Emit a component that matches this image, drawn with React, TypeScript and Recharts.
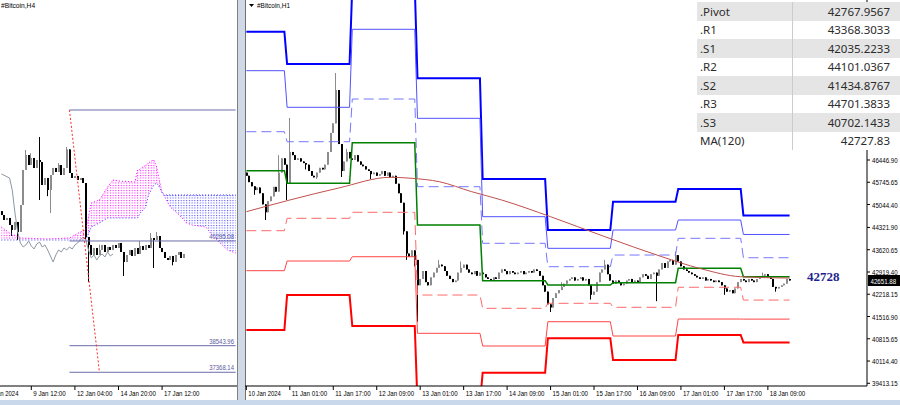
import React from 'react';
import { ComposedChart, Bar, Line, Area, XAxis, YAxis, ReferenceLine } from 'recharts';

const FONT = "'Liberation Sans', Arial, sans-serif";

// ---------- right panel: #Bitcoin,H1 (bar 0 = 10 Jan 09:00) ----------
const h1FirstOpen = 46050;
const h1Close = [
  45950, 45750, 45620, 45500, 45580, 45400, 45050, 44800, 45150, 45300,
  45600, 45450, 46050, 46500, 46300, 45700, 46700, 46600, 46450, 46500,
  46400, 46350, 46300, 46100, 45950, 45900, 46050, 46200, 46150, 46300,
  46700, 47300, 47600, 48650, 46950, 46100, 46400, 46700, 46500, 46450,
  46600, 46400, 46300, 46250, 46150, 46100, 46000, 46050, 45950, 46000,
  46100, 45950, 46050, 45900, 45950, 45700, 45400, 45100, 44200, 43500,
  43400, 43600, 43300, 42500, 42700, 42950, 42600, 42500, 42750, 42900,
  43050, 43150, 43100, 42950, 42800, 42700, 42600, 42650, 42900, 43050,
  43150, 43000, 42900, 42850, 42950, 42800, 42900, 42850, 42750, 42700,
  42650, 42750, 42700, 42900, 43000, 42950, 42850, 42950, 42900, 42850,
  42900, 42950, 42850, 42900, 42950, 42900, 43000, 42950, 42800, 42500,
  42300, 41900, 41800, 42100, 42250, 42350, 42450, 42550, 42650, 42700,
  42750, 42650, 42700, 42750, 42650, 42700, 42500, 42200, 42300, 42600,
  42900, 43000, 43150, 42850, 42650, 42550, 42650, 42600, 42500, 42550,
  42650, 42700, 42600, 42650, 42600, 42750, 42850, 42800, 42700, 42850,
  42900, 42800, 43000, 43200, 43050, 43250, 43300, 43150, 43450, 43250,
  43100, 43000, 42950, 42900, 42850, 42800, 42750, 42700, 42750, 42650,
  42700, 42650, 42600, 42650, 42600, 42500, 42400, 42300, 42350, 42250,
  42400, 42600, 42700, 42650, 42600, 42700, 42650, 42600, 42700, 42750,
  42800, 42850, 42750, 42700, 42450, 42400, 42450, 42500, 42550, 42700, 42652,
];
// long wicks only: [bar, high, low]
const h1Wicks: [number, number | null, number | null][] = [
  [3, null, 45350], [7, null, 44557], [12, 46600, null], [15, null, 45187], [16, 47770, null],
  [22, null, 46150], [26, null, 45850], [33, 49187, null], [35, null, 45911], [37, 46800, null],
  [46, null, 45850], [58, null, 44100], [59, null, 43300], [62, null, 43100], [63, null, 41350],
  [71, 43300, null], [79, 43250, null], [112, null, 41659], [116, 42600, null], [127, null, 42050],
  [132, 43300, null], [151, null, 42000], [158, 43560, null], [176, null, 42200], [190, 42900, null],
  [195, null, 42300],
];
const h1Ticks = [0, 16, 32, 48, 64, 80, 96, 112, 128, 144, 160, 176, 192];
const h1TickLabels = ['10 Jan 2024', '11 Jan 01:00', '11 Jan 17:00', '12 Jan 09:00', '13 Jan 01:00',
  '13 Jan 17:00', '14 Jan 09:00', '15 Jan 01:00', '15 Jan 17:00', '16 Jan 09:00', '17 Jan 01:00',
  '17 Jan 17:00', '18 Jan 09:00'];
const priceTicks = [39413.15, 40114.4, 40815.65, 41516.9, 42218.15, 42919.4, 43620.65, 44321.9,
  45044.4, 45745.65, 46446.9];

// daily pivot levels
const dayStart = [0, 15, 39, 63, 87, 111, 135, 159, 183];
const dayEnd = [14, 38, 62, 86, 110, 134, 158, 182, 200];
const lvR3 = [50488, 49471, 51936, 49020, 45848, 44242, 45134, 45533, 44701];
const lvR2 = [49260, 48107, 50564, 47760, 44661, 43665, 44242, 44557, 44101];
const lvR1 = [47338, 47023, 48368, 45606, 43823, 43086, 43454, 43980, 43368];
const lvP = [46110, 45713, 46992, 44400, 42645, 42510, 42582, 43036, 42768];
const lvS1 = [44220, 44610, 44800, 42194, 41775, 41933, 41807, 42438, 42035];
const lvS2 = [42960, 43265, 43400, 40988, 40588, 41353, 40903, 41438, 41435];
const lvS3 = [41092, 42194, 41218, 38782, 39747, 40830, 40147, 40935, 40702];

const maBars = [0, 16, 34, 53, 61, 71, 83, 94, 112, 132, 153, 167, 182, 200];
const maValues = [44818, 45187, 45565, 45902, 45870, 45764, 45448, 45187, 44661, 44031, 43400, 43030, 42770, 42728];

// ---------- left panel: #Bitcoin,H4 (visible bars 0..86) ----------
const h4FirstOpen = 45000;
const h4Close = [
  44793, 44526, 44633, 44258, 43990, 44419, 43883, 45328, 47202, 48004,
  47469, 47844, 47309, 47737, 47630, 46399, 46773, 46131, 46934, 47309,
  47095, 47469, 46934, 47309, 48300, 47041, 46773, 46880, 46666, 46773,
  46506, 43616, 43188, 42652, 43027, 42652, 42920, 43188, 42813, 43081,
  42920, 43188, 43027, 43295, 42813, 42278, 42652, 42920, 42599, 43027,
  42706, 43134, 42920, 43188, 43027, 43562, 43455, 43669, 43027, 42813,
  42492, 42385, 42599, 42278, 42652, 42813, 42492, 42706,
];
const h4Wicks: [number, number | null, number | null][] = [
  [4, null, 43669], [6, null, 43455], [9, 48272, null], [11, 48100, null], [14, 48968, 45596],
  [17, null, 45800], [18, null, 44900], [21, 47576, null], [24, 48433, null], [31, null, 43455],
  [32, null, 41208], [36, 43200, null], [45, null, 41529], [51, 43400, null], [55, 43830, null],
  [56, null, 41957], [57, 43883, null], [63, null, 42100],
];
const chikouK = [0, 3, 4, 5, 6, 7, 8, 9, 10, 11, 12, 13, 14, 15, 16, 17, 18, 19, 20, 21, 22,
  23, 24, 25, 26, 27, 28, 29, 30, 31, 32, 33, 34, 35, 36, 37, 38, 39, 40, 41];
const chikouV = [46990, 46773, 46131, 44900, 43883, 43295, 43081, 43188, 43402, 43134, 42974, 43241,
  43348, 43081, 43188, 42920, 42599, 42278, 42652, 42920, 42813, 43027, 42920, 43081, 42974, 43188,
  43295, 43455, 43616, 43455, 42920, 42492, 42652, 42385, 42599, 42706, 42545, 42813, 42599, 42706];
const cloudK = [0, 3, 7, 17, 25, 29, 31, 33, 36, 39, 41, 43, 49, 50, 51, 52, 53, 54, 55, 56, 57,
  58, 59, 60, 62, 66, 68, 70, 75, 78, 83, 86];
const cloudA = [44151, 43830, 43562, 43510, 43562, 43883, 43990, 45435, 45596, 46292, 46666,
  46613, 46559, 47202, 47250, 47362, 47450, 47580, 47683, 47737, 47362, 46666, 46024, 45750, 45221,
  44686, 44365, 44258, 44151, 43616, 42920, 42760];
const cloudB = [43455, 43455, 43455, 43455, 43455, 43455, 43455, 44151, 44365, 44633, 44633,
  44633, 44633, 44633, 44900, 45060, 45221, 45864, 46130, 46399, 46506, 46292, 45971, 45864, 45864,
  45864, 45864, 45864, 45864, 45864, 45864, 45864];
const cloudTwist = 59;
const h4FirstLabel = '8 Jan 2024';
const h4Ticks = [11, 27, 43, 59];
const h4TickLabels = ['9 Jan 12:00', '12 Jan 04:00', '14 Jan 20:00', '17 Jan 12:00'];
const fiboValues = [50413, 43402, 37798, 36375];
const fiboLabels = ['', '40295.08', '38543.96', '37368.14'];

const tableNames = ['.Pivot', '.R1', '.S1', '.R2', '.S2', '.R3', '.S3', 'MA(120)'];
const tableValues = ['42767.9567', '43368.3033', '42035.2233', '44101.0367', '41434.8767',
  '44701.3833', '40702.1433', '42727.83'];

// ---------- rows ----------
function buildCandles(rows: any[], open0: number, closes: number[], wicks: any[]) {
  closes.forEach((c, j) => {
    const o = j === 0 ? open0 : closes[j - 1];
    const r = rows[j];
    r.o = o; r.c = c; r.h = Math.max(o, c); r.l = Math.min(o, c);
  });
  wicks.forEach(([b, h, l]) => {
    const r = rows[b];
    if (h != null) r.h = Math.max(r.h, h);
    if (l != null) r.l = Math.min(r.l, l);
  });
}

const h1Rows: any[] = Array.from({ length: 229 }, (_, i) => ({ i }));
buildCandles(h1Rows, h1FirstOpen, h1Close, h1Wicks);
const levels = [
  { key: 'r3', vals: lvR3, stroke: '#0000ff', w: 2, dash: undefined },
  { key: 'r2', vals: lvR2, stroke: '#5252ff', w: 1, dash: undefined },
  { key: 'r1', vals: lvR1, stroke: '#7777ff', w: 1, dash: '10 5' },
  { key: 'pv', vals: lvP, stroke: '#008000', w: 1.5, dash: undefined },
  { key: 's1', vals: lvS1, stroke: '#ff6a6a', w: 1, dash: '10 5' },
  { key: 's2', vals: lvS2, stroke: '#ff4545', w: 1, dash: undefined },
  { key: 's3', vals: lvS3, stroke: '#ff0000', w: 2, dash: undefined },
];
levels.forEach((lv) => lv.vals.forEach((v, d) => {
  h1Rows[dayStart[d]][lv.key] = v;
  h1Rows[dayEnd[d]][lv.key] = v;
}));
maBars.forEach((b, j) => { h1Rows[b].ma = maValues[j]; });

const h4Rows: any[] = Array.from({ length: 87 }, (_, k) => ({ k }));
buildCandles(h4Rows, h4FirstOpen, h4Close, h4Wicks);
chikouK.forEach((k, j) => { h4Rows[k].chik = chikouV[j]; });
cloudK.forEach((k, j) => {
  const r = h4Rows[k];
  r.ca = cloudA[j]; r.cb = cloudB[j];
  if (k <= cloudTwist) r.mag = [cloudB[j], cloudA[j]];
  if (k >= cloudTwist) r.blu = [cloudA[j], cloudB[j]];
});

const h1LabelMap: Record<number, string> = {};
h1Ticks.forEach((t, j) => { h1LabelMap[t] = h1TickLabels[j]; });
const h4LabelMap: Record<number, string> = {};
h4Ticks.forEach((t, j) => { h4LabelMap[t] = h4TickLabels[j]; });

// ---------- shapes ----------
const Candle = (props: any) => {
  const { x, y, width, height, payload } = props;
  if (!payload || payload.h == null || !isFinite(y)) return null;
  const { o, h, l, c } = payload;
  const hgt = Math.abs(height || 0);
  const top = height < 0 ? y + height : y;
  const k = h > l ? hgt / (h - l) : 0;
  const cx = Math.round(x + width / 2);
  const yo = top + (h - o) * k;
  const yc = top + (h - c) * k;
  const color = c >= o ? '#8c8c8c' : '#000000';
  return (
    <g>
      <line x1={cx - 0.5} x2={cx - 0.5} y1={top} y2={top + hgt} stroke={color} strokeWidth={1} />
      <rect x={cx - 1} y={Math.min(yo, yc)} width={2} height={Math.max(1, Math.abs(yc - yo))} fill={color} />
    </g>
  );
};

// narrow terminal-style text
const Narrow = ({ x, y, text, per = 2.95, size = 8, fill = '#000', anchor = 'start' }: any) => (
  <text x={x} y={y} fontSize={size} fontFamily={FONT} fill={fill} textAnchor={anchor}
    textLength={text.length * per} lengthAdjust="spacingAndGlyphs">{text}</text>
);

const TimeTick = ({ x, y, payload, labels }: any) => (
  <g>
    <line x1={x} x2={x} y1={y - 4} y2={y} stroke="#000" />
    <Narrow x={x + 2} y={y + 5.5} text={labels[payload.value]} />
  </g>
);

const PriceTick = ({ x, y, payload }: any) => (
  <Narrow x={x} y={y + 3} text={payload.value.toFixed(2)} per={3.2} />
);

const Label = ({ left, top, w, h, children }: any) => (
  <svg style={{ position: 'absolute', left, top, overflow: 'hidden' }} width={w} height={h}>{children}</svg>
);

const noMargin = { top: 0, right: 0, bottom: 0, left: 0 };

export default function App() {
  return (
    <div style={{ position: 'absolute', left: 0, top: 0, width: 900, height: 405, overflow: 'hidden', background: '#fff' }}>
      {/* left H4 window */}
      <div style={{ position: 'absolute', left: 0, top: 0, width: 237, height: 405 }}>
        <ComposedChart width={237} height={405} data={h4Rows} margin={noMargin} barCategoryGap={0}>
          <defs>
            <pattern id="dotMag" width={2.724} height={2.5} patternUnits="userSpaceOnUse">
              <rect x={1} y={0} width={1} height={1} fill="#ff00ff" />
            </pattern>
            <pattern id="dotBlu" width={2.724} height={2.5} patternUnits="userSpaceOnUse">
              <rect x={1} y={0} width={1} height={1} fill="#3a3aff" />
            </pattern>
          </defs>
          <XAxis dataKey="k" type="category" ticks={h4Ticks} interval={0} height={19} tickSize={4} tickMargin={0}
            tickLine={false} axisLine={{ stroke: '#000' }}
            tick={(p: any) => <TimeTick {...p} labels={h4LabelMap} />} />
          <YAxis hide domain={[35640, 56300]} allowDataOverflow />
          <Area dataKey={(d: any) => d.mag} type="linear" stroke="none" fill="url(#dotMag)" fillOpacity={1}
            connectNulls isAnimationActive={false} dot={false} activeDot={false} />
          <Area dataKey={(d: any) => d.blu} type="linear" stroke="none" fill="url(#dotBlu)" fillOpacity={1}
            connectNulls isAnimationActive={false} dot={false} activeDot={false} />
          <Line dataKey="ca" type="linear" stroke="#ff00ff" strokeDasharray="1 2" strokeWidth={1}
            connectNulls dot={false} activeDot={false} isAnimationActive={false} />
          <Line dataKey="cb" type="linear" stroke="#3a3aff" strokeDasharray="1 2" strokeWidth={1}
            connectNulls dot={false} activeDot={false} isAnimationActive={false} />
          <Line dataKey="chik" type="linear" stroke="#8d98a4" strokeWidth={1}
            connectNulls dot={false} activeDot={false} isAnimationActive={false} />
          {fiboValues.map((v, j) => (
            <ReferenceLine key={j} segment={[{ x: 25, y: v }, { x: 86, y: v }]} stroke="#6c6caa" strokeWidth={1}
              label={(p: any) => fiboLabels[j] ? (
                <Narrow x={234} y={p.viewBox.y - 2} anchor="end" text={fiboLabels[j]} per={3.1} fill="#5a5a9e" />
              ) : null} />
          ))}
          <ReferenceLine segment={[{ x: 25, y: fiboValues[0] }, { x: 36, y: fiboValues[3] }]}
            stroke="#ff2a2a" strokeWidth={1} strokeDasharray="2 2" />
          <Bar dataKey={(d: any) => (d.h != null ? [d.l, d.h] : undefined)} shape={<Candle />}
            isAnimationActive={false} />
        </ComposedChart>
        <Label left={0} top={386} w={24} h={14}><Narrow x={-11} y={9.5} text={h4FirstLabel} /></Label>
        <Label left={1} top={0} w={60} h={12}><Narrow x={0} y={8} text="#Bitcoin,H4" per={3.1} /></Label>
      </div>
      <div style={{ position: 'absolute', left: 237, top: 0, width: 1, height: 400, background: '#808080' }} />
      <div style={{ position: 'absolute', left: 238, top: 0, width: 7, height: 405, background: '#cfdae6' }} />
      <div style={{ position: 'absolute', left: 245, top: 0, width: 1, height: 400, background: '#707070' }} />

      {/* right H1 window */}
      <div style={{ position: 'absolute', left: 245, top: 0 }}>
        <ComposedChart width={655} height={405} data={h1Rows} margin={noMargin} barCategoryGap={0}>
          <XAxis dataKey="i" type="category" ticks={h1Ticks} interval={0} height={19} tickSize={4} tickMargin={0}
            tickLine={false} axisLine={{ stroke: '#000' }}
            tick={(p: any) => <TimeTick {...p} labels={h1LabelMap} />} />
          <YAxis orientation="right" width={33} domain={[39328, 51487]} allowDataOverflow ticks={priceTicks}
            interval={0} tickSize={3} tickMargin={2} axisLine={{ stroke: '#000' }} tickLine={{ stroke: '#000' }}
            tick={(p: any) => <PriceTick {...p} />} />
          <Bar dataKey={(d: any) => (d.h != null ? [d.l, d.h] : undefined)} shape={<Candle />}
            isAnimationActive={false} />
          {levels.map((lv) => (
            <Line key={lv.key} dataKey={lv.key} type="linear" stroke={lv.stroke} strokeWidth={lv.w}
              strokeDasharray={lv.dash} connectNulls dot={false} activeDot={false} isAnimationActive={false} />
          ))}
          <Line dataKey="ma" type="monotone" stroke="#c0504d" strokeWidth={1} connectNulls dot={false}
            activeDot={false} isAnimationActive={false} />
        </ComposedChart>
        <Label left={3} top={0} w={60} h={12}>
          <path d="M1 4 L6 4 L3.5 7 Z" fill="#000" />
          <Narrow x={9} y={8} text="#Bitcoin,H1" per={3.0} />
        </Label>
      </div>

      <div style={{ position: 'absolute', left: 807, top: 269, fontFamily: "'Liberation Serif', serif", fontWeight: 'bold',
        fontSize: 13, lineHeight: '16px', color: '#1f1f8f' }}>42728</div>
      <div style={{ position: 'absolute', left: 868, top: 275, width: 32, height: 11, background: '#000' }}>
        <svg width={32} height={11} style={{ display: 'block' }}>
          <Narrow x={2.5} y={8.5} text="42651.88" per={3.2} fill="#fff" />
        </svg>
      </div>

      {/* levels table */}
      <div style={{ position: 'absolute', left: 697, top: 2, width: 203, fontFamily: "'Noto Sans', sans-serif",
        fontSize: 11.5, color: '#2b2b2b' }}>
        {tableNames.map((n, i) => (
          <div key={n} style={{ height: 18.5, display: 'flex', background: i % 2 === 0 ? '#e5e5e5' : '#ffffff' }}>
            <div style={{ width: 96, paddingLeft: 3, boxSizing: 'border-box', borderRight: '1px solid #cccccc',
              display: 'flex', alignItems: 'center' }}>{n}</div>
            <div style={{ flex: 1, textAlign: 'right', paddingRight: 10, display: 'flex', alignItems: 'center',
              justifyContent: 'flex-end' }}>{tableValues[i]}</div>
          </div>
        ))}
      </div>

      <div style={{ position: 'absolute', left: 0, top: 400, width: 900, height: 5, background: '#c9d8ea' }} />
    </div>
  );
}
